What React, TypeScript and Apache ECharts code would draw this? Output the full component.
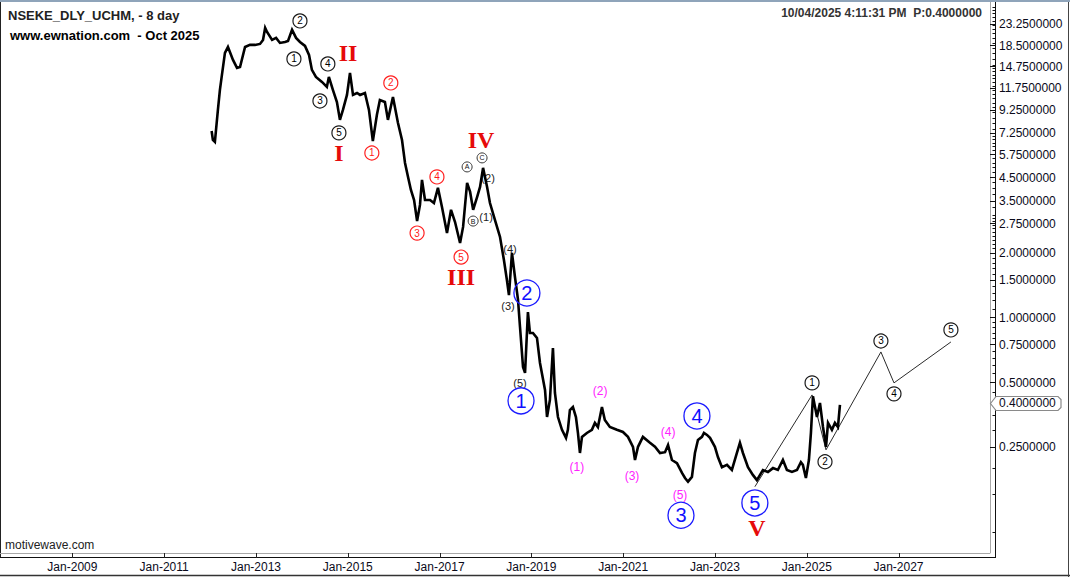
import React, { useEffect, useRef } from 'react';
import * as echarts from 'echarts';

const FONT = '"Liberation Sans", Arial, sans-serif';
const SERIF = '"Liberation Serif", "Times New Roman", serif';

// ---------- axis ranges & ticks ----------
const xMin = '2007-06-05';
const xMax = '2028-12-29';
const yMin = 0.0801;
const yMax = 29.4;
const xTickYears = [2009, 2011, 2013, 2015, 2017, 2019, 2021, 2023, 2025, 2027];
const yTickLabels = [23.25, 18.5, 14.75, 11.75, 9.25, 7.25, 5.75, 4.5, 3.5, 2.75, 2.0, 1.5, 1.0, 0.75, 0.5, 0.4, 0.25];
const lastPrice = 0.4;

// ---------- price path (8-day bars) ----------
const priceDates = [
  '2012-01-14', '2012-01-24', '2012-02-09', '2012-03-04', '2012-03-20', '2012-04-05', '2012-04-29', '2012-05-23',
  '2012-07-02', '2012-08-03', '2012-08-27', '2012-10-06', '2012-11-14', '2012-12-24', '2013-02-02', '2013-02-26',
  '2013-03-15', '2013-03-30', '2013-05-09', '2013-06-10', '2013-07-11', '2013-08-20', '2013-09-13', '2013-10-15',
  '2013-11-16', '2013-12-17', '2014-01-26', '2014-02-27', '2014-03-22', '2014-04-23', '2014-06-10', '2014-07-19',
  '2014-08-04', '2014-09-05', '2014-10-07', '2014-10-31', '2014-11-24', '2014-12-26', '2015-01-19', '2015-02-12',
  '2015-03-16', '2015-04-09', '2015-05-18', '2015-06-19', '2015-07-20', '2015-08-21', '2015-09-14', '2015-10-24',
  '2015-11-17', '2015-12-27', '2016-02-05', '2016-03-08', '2016-04-01', '2016-04-25', '2016-05-18', '2016-06-12',
  '2016-07-06', '2016-07-29', '2016-08-14', '2016-09-07', '2016-10-17', '2016-11-17', '2016-12-19', '2017-01-20',
  '2017-03-01', '2017-04-02', '2017-05-04', '2017-06-13', '2017-07-07', '2017-08-08', '2017-09-01', '2017-09-25',
  '2017-10-27', '2017-11-19', '2017-12-13', '2018-01-14', '2018-02-06', '2018-03-18', '2018-04-27', '2018-05-28',
  '2018-06-21', '2018-07-07', '2018-07-31', '2018-08-24', '2018-09-17', '2018-10-03', '2018-10-27', '2018-11-12',
  '2018-12-05', '2018-12-21', '2019-01-14', '2019-02-15', '2019-03-11', '2019-04-20', '2019-05-06', '2019-05-29',
  '2019-06-22', '2019-07-08', '2019-08-01', '2019-09-02', '2019-10-04', '2019-10-19', '2019-11-04', '2019-11-28',
  '2019-12-22', '2020-01-07', '2020-01-23', '2020-02-08', '2020-03-18', '2020-04-27', '2020-05-21', '2020-06-14',
  '2020-07-16', '2020-08-08', '2020-09-17', '2020-11-12', '2020-12-30', '2021-02-08', '2021-03-20', '2021-04-05',
  '2021-04-29', '2021-06-07', '2021-08-02', '2021-09-11', '2021-10-21', '2021-11-30', '2021-12-24', '2022-01-24',
  '2022-03-05', '2022-04-14', '2022-05-08', '2022-06-01', '2022-07-02', '2022-07-26', '2022-08-19', '2022-09-20',
  '2022-10-06', '2022-10-30', '2022-11-23', '2023-01-01', '2023-01-25', '2023-02-26', '2023-04-07', '2023-05-16',
  '2023-06-25', '2023-07-19', '2023-08-12', '2023-09-21', '2023-10-30', '2023-12-01', '2024-01-18', '2024-02-27',
  '2024-04-07', '2024-05-16', '2024-06-25', '2024-07-27', '2024-09-05', '2024-10-15', '2024-11-15', '2024-12-01',
  '2024-12-25', '2025-01-18', '2025-02-03', '2025-02-19', '2025-03-23', '2025-04-16', '2025-05-10', '2025-06-03',
  '2025-06-19', '2025-07-20', '2025-08-13', '2025-09-06', '2025-09-22',
];
const priceValues = [
  7.38, 6.70, 6.56, 9.25, 11.46, 13.46, 17.03, 18.16,
  15.80, 14.50, 14.65, 18.16, 18.56, 18.56, 18.76, 19.58,
  22.3, 21.33, 19.58, 20.0, 18.96, 19.16, 19.37, 21.80,
  20.0, 19.16, 18.36, 16.67, 14.20, 13.17, 12.48, 11.83,
  13.17, 11.46, 10.07, 8.31, 9.25, 10.86, 13.75, 10.86,
  11.09, 10.86, 11.09, 9.25, 6.63, 8.76, 10.29, 10.07,
  8.31, 10.63, 8.04, 6.70, 5.24, 4.51, 3.92, 3.52,
  2.81, 3.34, 4.37, 3.52, 3.52, 3.41, 4.01, 3.27,
  2.47, 3.17, 2.78, 2.22, 2.64, 4.23, 3.84, 3.17,
  3.64, 4.05, 4.97, 4.05, 3.41, 2.84, 2.37, 1.85,
  1.49, 1.27, 2.00, 1.54, 1.21, 0.903, 0.588, 0.552,
  1.06, 0.847, 0.847, 0.803, 0.614, 0.460, 0.344, 0.413,
  0.721, 0.445, 0.344, 0.300, 0.275, 0.300, 0.371, 0.383,
  0.344, 0.290, 0.234, 0.278, 0.290, 0.300, 0.323, 0.309,
  0.383, 0.333, 0.309, 0.300, 0.293, 0.278, 0.250, 0.217,
  0.250, 0.278, 0.261, 0.250, 0.234, 0.236, 0.255, 0.217,
  0.210, 0.189, 0.179, 0.172, 0.181, 0.234, 0.269, 0.278,
  0.290, 0.284, 0.275, 0.250, 0.224, 0.201, 0.206, 0.195,
  0.234, 0.261, 0.234, 0.201, 0.185, 0.175, 0.195, 0.191,
  0.199, 0.195, 0.217, 0.195, 0.191, 0.195, 0.212, 0.206,
  0.179, 0.217, 0.290, 0.430, 0.344, 0.400, 0.309, 0.250,
  0.323, 0.300, 0.323, 0.309, 0.392,
];

// ---------- projected wave path ----------
const projDates = ['2023-11-15', '2025-02-12', '2025-06-03', '2026-08-14', '2026-11-26', '2028-02-22'];
const projValues = [0.163, 0.436, 0.242, 0.691, 0.496, 0.769];

// ---------- wave labels [date, value, text] ----------
const blackCircles: [string, number, string][] = [
  ['2013-12-17', 24.0, '2'], ['2013-10-30', 15.97, '1'], ['2014-07-27', 15.14, '4'],
  ['2014-05-25', 10.18, '3'], ['2014-10-23', 7.23, '5'],
  ['2025-02-12', 0.496, '1'], ['2025-05-26', 0.213, '2'], ['2026-08-14', 0.777, '3'],
  ['2026-11-26', 0.441, '4'], ['2028-02-22', 0.875, '5'],
];
const redCircles: [string, number, string][] = [
  ['2015-07-12', 5.83, '1'], ['2015-12-10', 12.35, '2'], ['2016-07-06', 2.47, '3'],
  ['2016-12-11', 4.51, '4'], ['2017-06-21', 1.91, '5'],
];
const romanLabels: [string, number, string][] = [
  ['2015-01-03', 17.03, 'II'], ['2014-10-23', 5.83, 'I'], ['2017-06-21', 1.54, 'III'],
  ['2017-11-27', 6.70, 'IV'], ['2023-12-01', 0.105, 'V'],
];
const letterCircles: [string, number, string][] = [
  ['2017-08-08', 5.02, 'A'], ['2017-09-25', 2.81, 'B'], ['2017-12-05', 5.53, 'C'],
];
const blackParens: [string, number, string][] = [
  ['2018-01-22', 4.46, '(2)'], ['2018-01-06', 2.94, '(1)'], ['2018-07-15', 2.08, '(4)'],
  ['2018-06-29', 1.13, '(3)'], ['2018-10-03', 0.496, '(5)'],
];
const blueCircles: [string, number, string][] = [
  ['2018-11-27', 1.30, '2'], ['2018-10-11', 0.409, '1'], ['2022-04-06', 0.120, '3'],
  ['2022-08-11', 0.348, '4'], ['2023-11-15', 0.137, '5'],
];
const magentaParens: [string, number, string][] = [
  ['2019-12-30', 0.201, '(1)'], ['2020-07-01', 0.455, '(2)'], ['2021-03-12', 0.183, '(3)'],
  ['2021-12-24', 0.293, '(4)'], ['2022-03-29', 0.149, '(5)'],
];

// minor tick generation (axis decoration)
function buildMinorTicks(): number[] {
  const out: number[] = [];
  const ranges: [number, number, number][] = [
    [0.1, 1, 0.05], [1, 3, 0.1], [3, 7, 0.25], [7, 15, 0.5], [15, 29, 1],
  ];
  ranges.forEach(([a, b, s]) => {
    const n = Math.round((b - a) / s);
    for (let k = 0; k < n; k++) {
      const v = +(a + k * s).toFixed(4);
      if (!yTickLabels.some((t) => Math.abs(t - v) < 1e-6)) out.push(v);
    }
  });
  return out;
}

function annot(name: string, items: [string, number, string][], o: any) {
  return {
    type: 'scatter',
    name,
    z: o.z ?? 3,
    silent: true,
    symbol: 'circle',
    symbolSize: o.size,
    itemStyle: { color: o.fill, borderColor: o.border, borderWidth: o.bw, opacity: 1 },
    label: {
      show: true,
      position: 'inside',
      formatter: '{b}',
      color: o.color,
      fontSize: o.fontSize,
      fontFamily: o.family || FONT,
      fontWeight: o.weight || 'normal',
    },
    data: items.map(([d, v, t]) => ({ name: t, value: [d, v] })),
  };
}

export default function App() {
  const ref = useRef<HTMLDivElement>(null);
  useEffect(() => {
    document.body.style.margin = '0';
    const chart = echarts.init(ref.current!, null, { renderer: 'svg' });
    const xMaxTs = new Date(xMax).getTime();
    const xMinTs = new Date(xMin).getTime();
    const tickData: number[][] = [
      ...yTickLabels.map((v) => [xMinTs, v, v === lastPrice ? 3 : 2]),
      ...buildMinorTicks().map((v) => [xMinTs, v, 0]),
    ];
    const xTickData = xTickYears.map((y) => [new Date(y, 0, 1).getTime(), yMin, y]);

    const option: any = {
      animation: false,
      backgroundColor: '#ffffff',
      grid: { left: 0, right: 80, top: 2, bottom: 24, containLabel: false },
      xAxis: {
        type: 'time',
        min: xMin,
        max: xMax,
        splitLine: { show: false },
        axisLine: { show: true, lineStyle: { color: '#a8a8a8', width: 1 } },
        axisTick: { show: false },
        axisLabel: { show: false },
      },
      yAxis: {
        type: 'log',
        logBase: 10,
        min: yMin,
        max: yMax,
        show: false,
        splitLine: { show: false },
      },
      series: [
        {
          type: 'custom',
          name: 'xAxisTicks',
          silent: true,
          clip: false,
          z: 10,
          encode: { x: 0, y: 1 },
          data: xTickData,
          renderItem: (params: any, api: any) => {
            const p = api.coord([api.value(0), api.value(1)]);
            const x = Math.round(p[0]) + 0.5;
            return {
              type: 'group',
              children: [
                { type: 'line', shape: { x1: x, y1: p[1], x2: x, y2: p[1] + 5 }, style: { stroke: '#222', lineWidth: 1 } },
                {
                  type: 'text',
                  x: p[0],
                  y: p[1] + 14,
                  style: {
                    text: 'Jan-' + api.value(2),
                    fill: '#0a0a1a',
                    font: '12px ' + FONT,
                    align: 'center',
                    verticalAlign: 'middle',
                  },
                },
              ],
            };
          },
        },
        {
          type: 'custom',
          name: 'yAxisTicks',
          silent: true,
          clip: false,
          z: 10,
          encode: { x: 0, y: 1 },
          data: tickData,
          renderItem: (params: any, api: any) => {
            const v = api.value(1);
            const kind = api.value(2);
            const p = api.coord([api.value(0), v]);
            const right = api.coord([xMaxTs, v])[0];
            const axisX = right + 5.5;
            const y = Math.round(p[1]) + 0.5;
            const children: any[] = [
              {
                type: 'line',
                shape: { x1: kind >= 2 ? right : axisX - 3, y1: y, x2: axisX, y2: y },
                style: { stroke: '#111', lineWidth: 1 },
              },
            ];
            if (kind === 3) {
              const h = 7;
              children.push({
                type: 'polygon',
                shape: {
                  points: [
                    [right + 0.5, y], [right + 6, y - h], [right + 68, y - h], [right + 71, y - h + 3],
                    [right + 71, y + h - 3], [right + 68, y + h], [right + 6, y + h],
                  ],
                },
                style: { fill: '#ffffff', stroke: '#8a8a8a', lineWidth: 1.2 },
              });
            }
            if (kind >= 2) {
              children.push({
                type: 'text',
                x: right + 9,
                y: p[1] + 0.5,
                style: {
                  text: v.toFixed(7),
                  fill: '#0a0a1a',
                  font: '12px ' + FONT,
                  align: 'left',
                  verticalAlign: 'middle',
                },
              });
            }
            return { type: 'group', children };
          },
        },
        annot('blackCircles', blackCircles, { size: 14, fill: '#ffffff', border: '#1a1a1a', bw: 1.2, color: '#000', fontSize: 10 }),
        annot('redCircles', redCircles, { size: 14, fill: '#ffffff', border: '#ff2020', bw: 1.2, color: '#ff1a1a', fontSize: 10 }),
        annot('letterCircles', letterCircles, { size: 10, fill: '#ffffff', border: '#333', bw: 1, color: '#111', fontSize: 7 }),
        annot('romanLabels', romanLabels, { size: 2, fill: 'rgba(0,0,0,0)', border: 'rgba(0,0,0,0)', bw: 0, color: '#e60a0a', fontSize: 24, family: SERIF, weight: 'bold' }),
        annot('blackParens', blackParens, { size: 2, fill: 'rgba(0,0,0,0)', border: 'rgba(0,0,0,0)', bw: 0, color: '#222', fontSize: 11 }),
        annot('magentaParens', magentaParens, { size: 2, fill: 'rgba(0,0,0,0)', border: 'rgba(0,0,0,0)', bw: 0, color: '#ff22ff', fontSize: 12 }),
        annot('blueCircles', blueCircles, { size: 26, fill: 'rgba(255,255,255,0)', border: '#1a1aff', bw: 1.3, color: '#1010ff', fontSize: 20, z: 6 }),
        {
          type: 'line',
          name: 'projection',
          silent: true,
          z: 4,
          symbol: 'none',
          showSymbol: false,
          lineStyle: { color: '#2a2a2a', width: 1 },
          data: projDates.map((d, i) => [d, projValues[i]]),
        },
        {
          type: 'line',
          name: 'NSEKE_DLY_UCHM',
          silent: true,
          z: 5,
          symbol: 'none',
          showSymbol: false,
          lineStyle: { color: '#000000', width: 2.6, join: 'miter' },
          data: priceDates.map((d, i) => [d, priceValues[i]]),
        },
      ],
      graphic: [
        { type: 'rect', shape: { x: 0, y: 0, width: 1070, height: 2 }, style: { fill: '#8fa4ba' }, silent: true },
        { type: 'line', shape: { x1: 0.5, y1: 2, x2: 0.5, y2: 558 }, style: { stroke: '#222', lineWidth: 1 }, silent: true },
        { type: 'line', shape: { x1: 990.5, y1: 2, x2: 990.5, y2: 553 }, style: { stroke: '#a8a8a8', lineWidth: 1 }, silent: true },
        { type: 'line', shape: { x1: 995.5, y1: 2, x2: 995.5, y2: 558 }, style: { stroke: '#111', lineWidth: 1 }, silent: true },
        { type: 'line', shape: { x1: 0, y1: 557.5, x2: 996, y2: 557.5 }, style: { stroke: '#111', lineWidth: 1 }, silent: true },
        { type: 'line', shape: { x1: 0, y1: 575.5, x2: 1070, y2: 575.5 }, style: { stroke: '#333', lineWidth: 1.5 }, silent: true },
        { type: 'line', shape: { x1: 1068.5, y1: 2, x2: 1068.5, y2: 577 }, style: { stroke: '#444', lineWidth: 1 }, silent: true },
        {
          type: 'text', x: 8, y: 15, silent: true,
          style: { text: 'NSEKE_DLY_UCHM, - 8 day', font: 'bold 13px ' + FONT, fill: '#222', align: 'left', verticalAlign: 'middle' },
        },
        {
          type: 'text', x: 10, y: 35, silent: true,
          style: { text: 'www.ewnation.com  - Oct 2025', font: 'bold 13px ' + FONT, fill: '#000', align: 'left', verticalAlign: 'middle' },
        },
        {
          type: 'text', x: 982, y: 13, silent: true,
          style: { text: '10/04/2025 4:11:31 PM  P:0.4000000', font: 'bold 12px ' + FONT, fill: '#333', align: 'right', verticalAlign: 'middle' },
        },
        {
          type: 'text', x: 5, y: 545, silent: true,
          style: { text: 'motivewave.com', font: '12px ' + FONT, fill: '#222', align: 'left', verticalAlign: 'middle' },
        },
      ],
    };
    chart.setOption(option);
    return () => chart.dispose();
  }, []);
  return (
    <div
      ref={ref}
      style={{ position: 'absolute', left: 0, top: 0, width: 1070, height: 577, background: '#fff' }}
    />
  );
}
